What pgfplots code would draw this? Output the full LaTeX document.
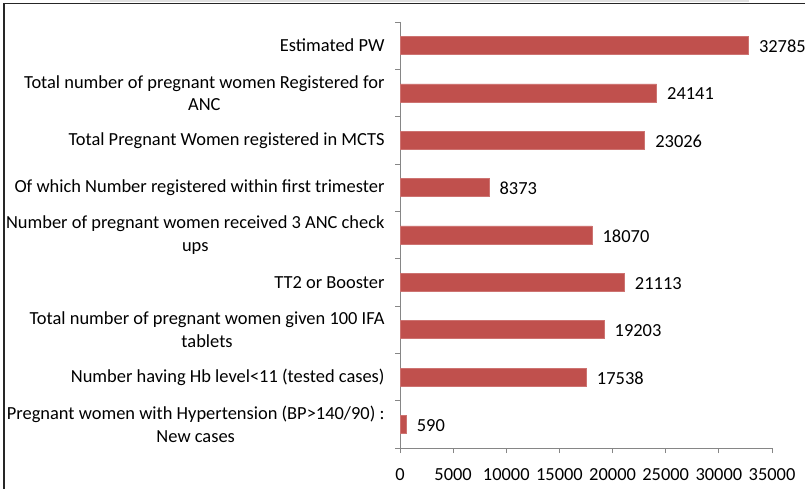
\documentclass[border=0pt]{standalone}
\usepackage{pgfplots}
\pgfplotsset{compat=1.18}
\usepackage{fontspec}
\setmainfont{Carlito}
\definecolor{barred}{HTML}{C0504D}
\definecolor{axgray}{HTML}{868686}
\newcommand{\cf}{\fontsize{18.5}{22.7}\selectfont}
\begin{document}
\begin{tikzpicture}[x=1bp,y=1bp]
\useasboundingbox (0,0) rectangle (805,489);
\fill[black!12] (90,486.5) rectangle (749,489);
\draw[line width=1.3bp, black!85] (4,0) -- (4,485.5) -- (805,485.5);
\begin{axis}[
  at={(400bp,41bp)}, anchor=south west,
  scale only axis, width=372bp, height=426bp,
  xmin=0, xmax=35000, ymin=0.5, ymax=9.5, y dir=reverse,
  xbar, bar width=18bp, bar shift=0pt,
  axis lines*=left,
  axis line style={axgray, line width=0.9bp},
  xtick={0,5000,...,35000},
  ytick={0.5,1.5,...,9.5}, yticklabels={},
  extra y ticks={1,2,3,4,5,6,7,8,9},
  extra y tick labels={
    {Estimated PW},
    {Total number of pregnant women Registered for\\ANC},
    {Total Pregnant Women registered in MCTS},
    {Of which Number registered within first trimester},
    {Number of pregnant women received 3 ANC check\\ups},
    {TT2 or Booster},
    {Total number of pregnant women given 100 IFA\\tablets},
    {Number having Hb level<11 (tested cases)},
    {Pregnant women with Hypertension (BP>140/90) :\\New cases}},
  extra y tick style={tick style={draw=none}},
  yticklabel style={align=center, font=\cf, text=black, xshift=-7bp},
  xticklabel style={font=\cf, text=black, yshift=-12bp},
  tick style={axgray, line width=0.9bp},
  tick align=outside, major tick length=5bp,
  scaled x ticks=false,
  /pgf/number format/.cd, fixed, precision=0, 1000 sep={}, assume math mode=true,
  /pgfplots/.cd,
  nodes near coords,
  nodes near coords style={font=\cf, text=black, anchor=west, xshift=7bp, yshift=-1bp},
  clip=false,
]
\addplot[fill=barred, draw=barred!80!white, line width=0.5bp] coordinates {
  (32785,1) (24141,2) (23026,3) (8373,4) (18070,5) (21113,6) (19203,7) (17538,8) (590,9)};
\end{axis}
\end{tikzpicture}
\end{document}
